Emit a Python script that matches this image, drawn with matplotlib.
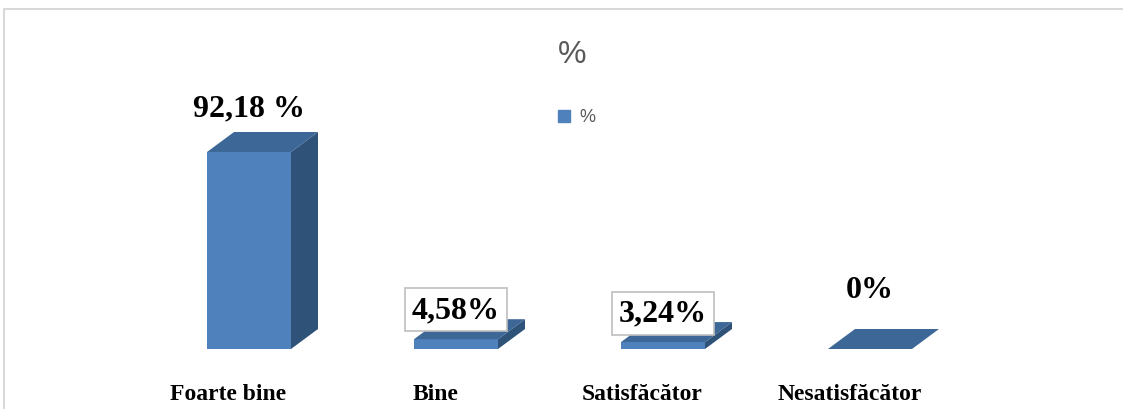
import matplotlib.pyplot as plt
from matplotlib.patches import Rectangle

categories = ['Foarte bine', 'Bine', 'Satisfăcător', 'Nesatisfăcător']
values = [92.18, 4.58, 3.24, 0.0]
value_labels = ['92,18 %', '4,58%', '3,24%', '0%']
boxed = [False, True, True, False]
# cat unde stau etichetele deasupra barei (pus manual in original)
label_y = [113.0, 18.5, 16.8, 28.0]

front_col = '#4F81BD'
top_col = '#3C6797'
side_col = '#2F5279'

W, H = 1123, 410
fig = plt.figure(figsize=(W / 100, H / 100), dpi=100)
ax = fig.add_axes([0, 0, 1, 1])

# scara: 207 px intre categorii, ~2.137 px pe procent
px_x = 207.0
px_y = 2.137
ax.set_xlim(-249 / px_x, (W - 249) / px_x)
ax.set_ylim(-(H - 350) / px_y, 350 / px_y)
ax.axis('off')

bw = 84 / px_x / 2      # jumatate din latimea fetei
dx = 27 / px_x          # adancime 3d
dy = 20 / px_y

for i, v in enumerate(values):
    l, r = i - bw, i + bw
    if v > 0:
        ax.fill([l, r, r, l], [0, 0, v, v], color=front_col, lw=0)
        ax.fill([r, r + dx, r + dx, r], [0, dy, v + dy, v], color=side_col, lw=0)
    ax.fill([l, r, r + dx, l + dx], [v, v, v + dy, v + dy], color=top_col, lw=0)

    bbox = None
    if boxed[i]:
        bbox = dict(boxstyle='square,pad=0.22', fc='white', ec='#BFBFBF', lw=1.2)
    ax.text(i, label_y[i], value_labels[i], ha='center', va='center',
            fontsize=23, fontweight='bold', family='Liberation Serif', bbox=bbox)

    ax.text(i - 0.1, -21, categories[i], ha='center', va='center',
            fontsize=17, fontweight='bold', family='Liberation Serif')

# titlu si legenda
fig.text(572 / W, 1 - 55 / H, '%', ha='center', va='center', fontsize=23,
         color='#595959', family='Liberation Sans')
fig.patches.append(Rectangle((558 / W, 1 - 123 / H), 12 / W, 12 / H,
                             transform=fig.transFigure, color=front_col))
fig.text(579 / W, 1 - 117 / H, '%', ha='left', va='center', fontsize=13,
         color='#595959', family='Liberation Sans')

# chenarul graficului
fig.patches.append(Rectangle((4 / W, -0.1), 1.2, 1 - 10 / H + 0.1,
                             transform=fig.transFigure, fill=False,
                             ec='#D9D9D9', lw=1.5))

plt.savefig('out.png', dpi=100)
